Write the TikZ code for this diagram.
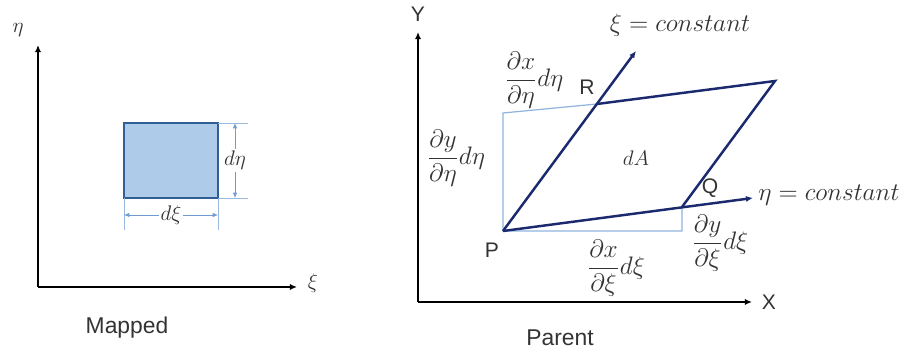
\documentclass[tikz,border=0pt]{standalone}
\usepackage{fontspec}
\setmainfont{Liberation Sans}
\usetikzlibrary{arrows.meta}

\definecolor{navyline}{HTML}{1B2A6E}
\definecolor{projblue}{HTML}{8FB4DE}
\definecolor{cellfill}{HTML}{AECBE9}
\definecolor{cellline}{HTML}{2F5F94}
\definecolor{dimblue}{HTML}{6F9BD0}
\definecolor{inkgray}{HTML}{333333}

\begin{document}
\begin{tikzpicture}[x=0.02cm,y=-0.02cm,
  axis/.style={-{Latex[length=4pt,width=3.5pt]},line width=1pt,black},
  cell/.style={draw=cellline,fill=cellfill,line width=1.3pt},
  dimline/.style={{Latex[length=3pt,width=2.5pt]}-{Latex[length=3pt,width=2.5pt]},dimblue,line width=0.4pt},
  extline/.style={dimblue!70,line width=0.4pt},
  edge/.style={navyline,line width=1.4pt},
  ray/.style={edge,-{Latex[length=4pt,width=3.5pt]}},
  proj/.style={projblue,line width=0.7pt},
  mlbl/.style={text=inkgray,font=\Large},
  smlbl/.style={text=inkgray,font=\large},
  constlbl/.style={text=inkgray,font=\fontsize{13.6}{16}\selectfont,inner sep=0pt},
  dimlbl/.style={text=inkgray,fill=white,inner sep=1pt,font=\large},
  tag/.style={text=inkgray,font=\large},
  caption/.style={text=inkgray,font=\fontsize{13}{15}\selectfont}
]
\useasboundingbox (0,0) rectangle (899,350);

% mapped element
\coordinate (o1) at (38,287);
\coordinate (etaend) at (38,45);
\coordinate (xiend) at (297,287);
\draw[axis] (o1) -- (etaend);
\draw[axis] (o1) -- (xiend);
\node[smlbl] (etalbl) at (18,30) {$\eta$};
\node[smlbl] (xilbl) at (313,283) {$\xi$};

\coordinate (c1) at (124,123);
\coordinate (c2) at (218,198);
\draw[cell] (c1) rectangle (c2);

\coordinate (e1) at (248,123);
\coordinate (e2) at (248,198);
\coordinate (e3) at (124,230);
\coordinate (e4) at (218,230);
\draw[extline] (218,123) -- (e1);
\draw[extline] (c2) -- (e2);
\draw[extline] (124,198) -- (e3);
\draw[extline] (c2) -- (e4);
\draw[dimline] (235,123) -- node[dimlbl] (deta) {$d\eta$} (235,198);
\draw[dimline] (124,215) -- node[dimlbl] (dxi) {$d\xi$} (218,215);

\node[caption] (mapped) at (127,328) {Mapped};

% parent element
\coordinate (o2) at (418,302);
\draw[axis] (o2) -- (418,32);
\draw[axis] (o2) -- (752,302);
\node[tag] (ylbl) at (418,14) {Y};
\node[tag] (xlbl) at (769,302) {X};

\coordinate (P) at (503,231);
\coordinate (Q) at (682,207);
\coordinate (R) at (597,104);
\coordinate (S) at (775,81);
\coordinate (xiray) at (636,51);
\coordinate (etaray) at (753,198);
\coordinate (Pup) at (503,113);
\coordinate (Pright) at (682,231);

\draw[proj] (R) -- (Pup) -- (P) -- (Pright) -- (Q);
\draw[ray] (P) -- (xiray);
\draw[ray] (P) -- (etaray);
\draw[edge] (R) -- (S) -- (Q);

\node[tag] (plbl) at (492,250) {P};
\node[tag] (qlbl) at (710,188) {Q};
\node[tag] (rlbl) at (587,87) {R};
\node[constlbl] (xiconst) at (680,25) {$\xi = constant$};
\node[constlbl,anchor=west] (etaconst) at (758,195) {$\eta = constant$};
\node[smlbl] (dA) at (636,158) {$dA$};

\node[mlbl] (dxdeta) at (534,80) {$\displaystyle\frac{\partial x}{\partial\eta}d\eta$};
\node[mlbl] (dydeta) at (456,158) {$\displaystyle\frac{\partial y}{\partial\eta}d\eta$};
\node[mlbl] (dxdxi) at (616,268) {$\displaystyle\frac{\partial x}{\partial\xi}d\xi$};
\node[mlbl] (dydxi) at (720,243) {$\displaystyle\frac{\partial y}{\partial\xi}d\xi$};

\node[caption] (parent) at (560,338) {Parent};
\end{tikzpicture}
\end{document}
